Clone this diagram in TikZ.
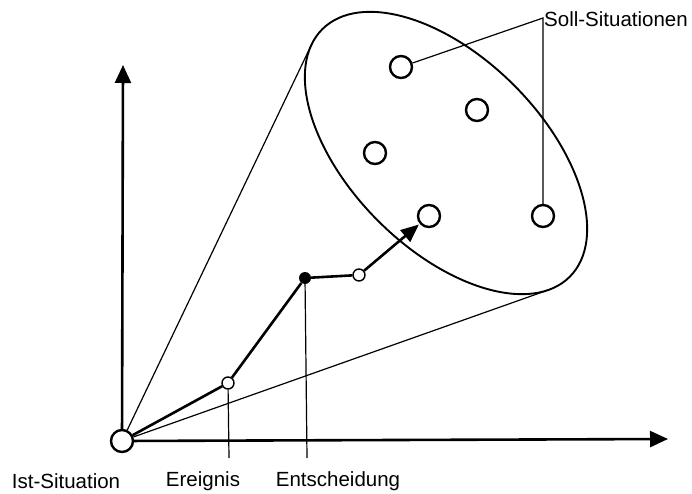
\documentclass[tikz,border=0pt]{standalone}
\usepackage{fontspec}
\setmainfont{Liberation Sans}
\usetikzlibrary{arrows.meta}

\begin{document}
\begin{tikzpicture}[x=1pt,y=1pt,font=\fontsize{20.5}{23}\selectfont,
    axis/.style={line width=2.6pt,-{Triangle[length=18pt,width=16pt]}},
    sit/.style={circle,draw,line width=2.4pt,minimum size=22pt,inner sep=0pt},
    step point/.style={circle,draw,line width=1.4pt,fill=white,minimum size=12pt,inner sep=0pt},
    thin line/.style={line width=1.2pt}]
        \useasboundingbox (0,0) rectangle (692,493);

        % Soll-Bereich
        \draw[line width=1.9pt,rotate around={-45:(446,340)}] (446,340) ellipse [x radius=175, y radius=96];
        \begin{scope}[shift={(446,340)},rotate=-45]
          \coordinate (tanlo) at (-14.7:175 and 96);
          \coordinate (tanhi) at (-169.1:175 and 96);
        \end{scope}

        \node[sit] (s1) at (401,426) {};
        \node[sit] (s2) at (477,383) {};
        \node[sit] (s3) at (375,340) {};
        \node[sit] (s4) at (429,277) {};
        \node[sit] (s5) at (543,277) {};

        % Achsen
        \node[sit,fill=white] (ist) at (122,52) {};
        \coordinate (ytip) at (123,428);
        \coordinate (xtip) at (668,54);
        \draw[axis] (ist) -- (ytip);
        \draw[axis] (ist) -- (xtip);
        \draw[thin line] (ist) -- (tanhi);
        \draw[thin line] (ist) -- (tanlo);

        % Weg
        \node[step point] (ereignis) at (228,110) {};
        \node[circle,fill,minimum size=12pt,inner sep=0pt] (entsch) at (305,215) {};
        \node[step point] (mitte) at (359,218) {};
        \coordinate (ereignis foot) at (229,35);
        \coordinate (entsch foot) at (307,35);
        \draw[thin line] (ereignis) -- (ereignis foot);
        \draw[thin line] (entsch) -- (entsch foot);
        \draw[line width=2.6pt] (ist) -- (ereignis) -- (entsch) -- (mitte);
        \draw[line width=2.6pt,-{Triangle[length=18pt,width=15pt]},shorten >=1pt] (mitte) -- (s4);

        % Beschriftung
        \node[anchor=base] (istlabel) at (66,5) {Ist-Situation};
        \node[anchor=base] (ereignislabel) at (203,7) {Ereignis};
        \node[anchor=base] (entschlabel) at (338,7) {Entscheidung};
        \node[anchor=base west,inner sep=0pt] (soll) at (544,466) {Soll-Situationen};
        \coordinate (sollknick) at (543,475);
        \draw[thin line] (s1) -- (sollknick) -- (s5);
      \end{tikzpicture}
\end{document}
